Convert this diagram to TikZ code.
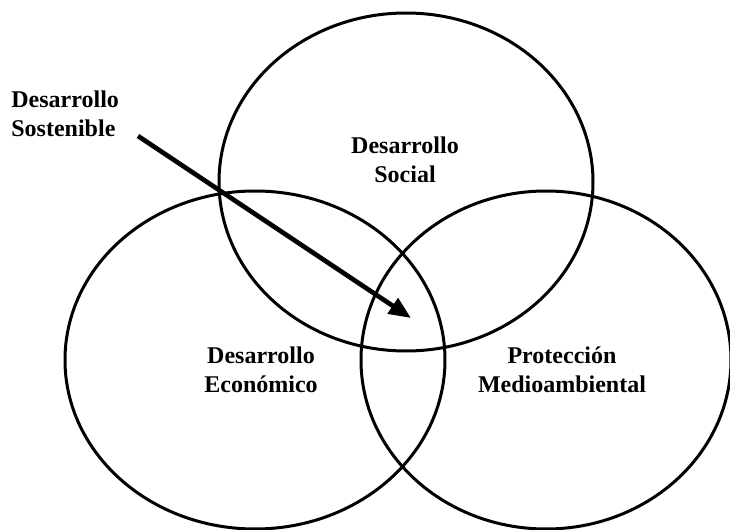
\documentclass[tikz,border=0pt]{standalone}
\usepackage{fontspec}
\setmainfont{Liberation Serif}
\usetikzlibrary{shapes.geometric,arrows.meta}

\begin{document}
\begin{tikzpicture}[x=0.5pt,y=-0.5pt]
\tikzset{circulo/.style={draw, ellipse, line width=1.5pt, inner sep=0pt},
         etiqueta/.style={font=\fontsize{12}{14.5}\selectfont\bfseries, align=center, inner sep=0pt},
         flecha/.style={line width=2.3pt, -{Triangle[length=11pt,width=9pt]}}}
\useasboundingbox (0,0) rectangle (730,530);
\node[circulo, minimum width=187pt, minimum height=169pt] (social) at (406,182) {};
\node[circulo, minimum width=190pt, minimum height=169pt] (economico) at (255,360) {};
\node[circulo, minimum width=185pt, minimum height=169pt] (medio) at (546,360) {};
\node[etiqueta] (tsocial) at (405,160) {Desarrollo\\Social};
\node[etiqueta] (teconomico) at (261,370) {Desarrollo\\Económico};
\node[etiqueta] (tmedio) at (562,370) {Protección\\Medioambiental};
\node[etiqueta, align=left, anchor=west] (tsostenible) at (11,114) {Desarrollo\\Sostenible};
\coordinate (inicio) at (138,136);
\coordinate (punta) at (411,318);
\draw[flecha] (inicio) -- (punta);
\end{tikzpicture}
\end{document}
